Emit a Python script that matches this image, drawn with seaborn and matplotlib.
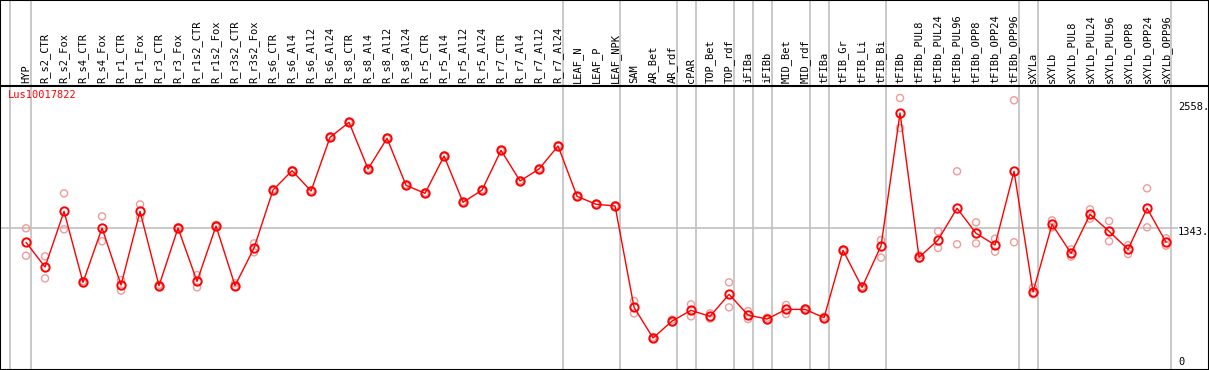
import numpy as np
import pandas as pd
import seaborn as sns
import matplotlib
matplotlib.use("Agg")
import matplotlib.pyplot as plt

# =====================
# DATA
# =====================
GENE = "Lus10017822"

categories = [
    "HYP", "R_s2_CTR", "R_s2_Fox", "R_s4_CTR", "R_s4_Fox", "R_r1_CTR", "R_r1_Fox",
    "R_r3_CTR", "R_r3_Fox", "R_r1s2_CTR", "R_r1s2_Fox", "R_r3s2_CTR", "R_r3s2_Fox",
    "R_s6_CTR", "R_s6_Al4", "R_s6_Al12", "R_s6_Al24",
    "R_s8_CTR", "R_s8_Al4", "R_s8_Al12", "R_s8_Al24",
    "R_r5_CTR", "R_r5_Al4", "R_r5_Al12", "R_r5_Al24",
    "R_r7_CTR", "R_r7_Al4", "R_r7_Al12", "R_r7_Al24",
    "LEAF_N", "LEAF_P", "LEAF_NPK", "SAM", "AR_Bet", "AR_rdf", "cPAR",
    "TOP_Bet", "TOP_rdf", "iFIBa", "iFIBb", "MID_Bet", "MID_rdf",
    "tFIBa", "tFIB_Gr", "tFIB_Li", "tFIB_Bi", "tFIBb",
    "tFIBb_PUL8", "tFIBb_PUL24", "tFIBb_PUL96", "tFIBb_OPP8", "tFIBb_OPP24", "tFIBb_OPP96",
    "sXYLa", "sXYLb",
    "sXYLb_PUL8", "sXYLb_PUL24", "sXYLb_PUL96", "sXYLb_OPP8", "sXYLb_OPP24", "sXYLb_OPP96",
]

mean_expr = [
    1200, 953, 1511, 799, 1344, 772, 1511, 766, 1344, 809, 1364, 766, 1144,
    1725, 1919, 1715, 2254,
    2404, 1936, 2244, 1772,
    1692, 2066, 1602, 1725,
    2123, 1816, 1936, 2167,
    1662, 1582, 1565, 548, 241, 411, 518,
    458, 679, 471, 431, 528, 528,
    445, 1120, 749, 1167, 2498,
    1050, 1224, 1542, 1291, 1174, 1913,
    702, 1381,
    1090, 1481, 1311, 1130, 1542, 1201,
]

rep_hi = [
    1341, 1060, 1692, 810, 1461, 822, 1581, 775, 1352, 872, 1375, 790, 1190,
    1735, 1925, 1722, 2262,
    2410, 1942, 2250, 1780,
    1700, 2072, 1610, 1732,
    2130, 1822, 1942, 2173,
    1668, 1588, 1572, 612, 250, 425, 578,
    488, 799, 511, 445, 572, 538,
    455, 1128, 760, 1224, 2648,
    1070, 1311, 1913, 1401, 1237, 2625,
    746, 1421,
    1130, 1531, 1414, 1171, 1742, 1241,
]

rep_lo = [
    1066, 839, 1331, 790, 1211, 716, 1448, 758, 1336, 749, 1355, 760, 1100,
    1718, 1912, 1708, 2246,
    2398, 1930, 2238, 1765,
    1685, 2060, 1595, 1718,
    2116, 1810, 1930, 2160,
    1656, 1576, 1558, 488, 232, 398, 458,
    435, 548, 431, 418, 481, 518,
    436, 1112, 735, 1047, 2347,
    1035, 1144, 1181, 1190, 1107, 1201,
    679, 1351,
    1057, 1438, 1211, 1083, 1351, 1167,
]

# group separators sit just right of these category indices
separator_after = [0, 28, 31, 34, 35, 37, 38, 39, 41, 42, 45, 52, 53, 60]

y_ticks = [2558, 1343, 0]

# =====================
# FRAME
# =====================
idx = np.arange(len(categories))
df_mean = pd.DataFrame({"pos": idx, "expr": mean_expr})
df_rep = pd.DataFrame({
    "pos": np.concatenate([idx, idx]),
    "expr": np.concatenate([rep_hi, rep_lo]),
})

sns.set_style("white")
plt.rcParams["font.family"] = ["DejaVu Sans Mono", "DejaVu Sans"]

fig = plt.figure(figsize=(12.09, 3.70), dpi=100)
ax = fig.add_axes([0, 0, 1, 1])

x_lo, x_hi = -1.37, 62.26
ax.set_xlim(x_lo, x_hi)
ax.set_ylim(-80, 3631)
label_line = 2769        # black line under the labels

# grid lines
for s in separator_after:
    ax.axvline(s + 0.25, color="#c0c0c0", lw=1.2, zorder=1)
ax.axvline(-0.84, color="#c0c0c0", lw=1.2, zorder=1)
ax.hlines(1343, x_lo, 60.65, color="#c0c0c0", lw=1.2, zorder=1)
ax.axhline(label_line, color="black", lw=1.5, zorder=2)

# replicates
sns.scatterplot(data=df_rep, x="pos", y="expr", ax=ax, marker="o", s=26,
                facecolors="none", edgecolor="#f09a9a", linewidth=1.0,
                zorder=3, legend=False)

# means
sns.lineplot(data=df_mean, x="pos", y="expr", ax=ax, color="red", lw=1.0,
             marker="o", markersize=6, markerfacecolor="none",
             markeredgecolor="red", markeredgewidth=1.4, zorder=4)

# category labels
for i, name in enumerate(categories):
    ax.text(i, label_line + 30, name, rotation=90, ha="center", va="bottom",
            fontsize=7.5, color="black")

ax.text(-0.95, 2680, GENE, color="red", fontsize=7.5, ha="left", va="center")

tick_shift = {2558: 0, 1343: -40, 0: 0}
for t in y_ticks:
    ax.text(60.63, t + tick_shift[t], f"{t}." if t else "0", fontsize=7.5,
            ha="left", va="center", color="black")

ax.set_xticks([]); ax.set_yticks([])
ax.set_xlabel(""); ax.set_ylabel("")
for sp in ax.spines.values():
    sp.set_visible(True)
    sp.set_color("black")
    sp.set_linewidth(1.5)

fig.savefig("out.png", dpi=100)
